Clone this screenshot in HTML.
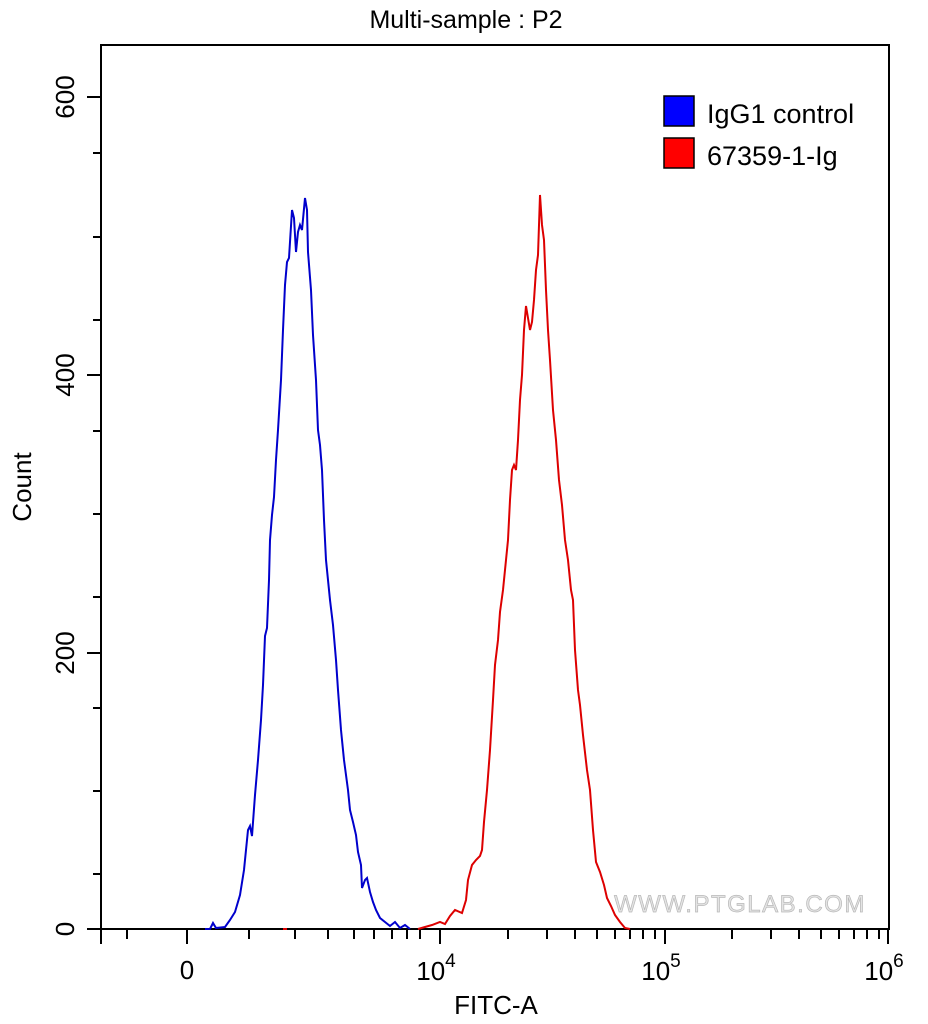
<!DOCTYPE html>
<html><head><style>body{margin:0;background:#fff}svg{display:block}</style></head><body>
<svg width="928" height="1024" xmlns="http://www.w3.org/2000/svg" font-family="Liberation Sans, Arial, sans-serif">
<text x="466" y="28" font-size="25" text-anchor="middle">Multi-sample : P2</text>
<rect x="101" y="45" width="788" height="884" fill="none" stroke="#000" stroke-width="2"/>
<g stroke="#000" stroke-width="2">
<line x1="87" y1="97" x2="101" y2="97"/><line x1="87" y1="375" x2="101" y2="375"/><line x1="87" y1="653" x2="101" y2="653"/><line x1="87" y1="929" x2="101" y2="929"/>
<line x1="93" y1="153" x2="101" y2="153"/><line x1="93" y1="237" x2="101" y2="237"/><line x1="93" y1="320" x2="101" y2="320"/><line x1="93" y1="431" x2="101" y2="431"/><line x1="93" y1="514" x2="101" y2="514"/><line x1="93" y1="597" x2="101" y2="597"/><line x1="93" y1="708" x2="101" y2="708"/><line x1="93" y1="791" x2="101" y2="791"/><line x1="93" y1="874" x2="101" y2="874"/>
<line x1="101" y1="929" x2="101" y2="944"/><line x1="187" y1="929" x2="187" y2="944"/><line x1="440" y1="929" x2="440" y2="944"/><line x1="665" y1="929" x2="665" y2="944"/><line x1="888" y1="929" x2="888" y2="944"/>
<g>
<line x1="127" y1="929" x2="127" y2="939"/><line x1="249" y1="929" x2="249" y2="939"/><line x1="295" y1="929" x2="295" y2="939"/><line x1="328" y1="929" x2="328" y2="939"/><line x1="354" y1="929" x2="354" y2="939"/><line x1="374" y1="929" x2="374" y2="939"/><line x1="392" y1="929" x2="392" y2="939"/><line x1="407" y1="929" x2="407" y2="939"/><line x1="420" y1="929" x2="420" y2="939"/>
<line x1="508" y1="929" x2="508" y2="939"/><line x1="547" y1="929" x2="547" y2="939"/><line x1="575" y1="929" x2="575" y2="939"/><line x1="597" y1="929" x2="597" y2="939"/><line x1="615" y1="929" x2="615" y2="939"/><line x1="630" y1="929" x2="630" y2="939"/><line x1="643" y1="929" x2="643" y2="939"/><line x1="655" y1="929" x2="655" y2="939"/>
<line x1="732" y1="929" x2="732" y2="939"/><line x1="771" y1="929" x2="771" y2="939"/><line x1="799" y1="929" x2="799" y2="939"/><line x1="821" y1="929" x2="821" y2="939"/><line x1="839" y1="929" x2="839" y2="939"/><line x1="854" y1="929" x2="854" y2="939"/><line x1="867" y1="929" x2="867" y2="939"/><line x1="879" y1="929" x2="879" y2="939"/>
</g></g>
<g font-size="26" text-anchor="middle">
<text transform="translate(74,97) rotate(-90)">600</text>
<text transform="translate(74,375) rotate(-90)">400</text>
<text transform="translate(74,653) rotate(-90)">200</text>
<text transform="translate(74,929) rotate(-90)">0</text>
<text x="187" y="979">0</text>
<text x="436" y="980">10<tspan font-size="19" dy="-13">4</tspan></text>
<text x="661" y="980">10<tspan font-size="19" dy="-13">5</tspan></text>
<text x="884" y="980">10<tspan font-size="19" dy="-13">6</tspan></text>
<text x="496" y="1014">FITC-A</text>
<text transform="translate(31,487) rotate(-90)">Count</text>
</g>
<text x="740" y="912" font-size="24" fill="#e4e4e4" stroke="#b8b8b8" stroke-width="0.7" text-anchor="middle" letter-spacing="1.5">WWW.PTGLAB.COM</text>
<polyline fill="none" stroke="#0000cc" stroke-width="2" points="205,929 210,929 213,923 216,928 225,927 230,920 235,912 240,895 244,870 248,830 250,826 252,836 255,795 258,760 261,720 263,685 265,636 267,628 269,580 270,540 272,515 274,497 276,460 278,430 281,380 283,330 285,285 287,262 289,258 292,210 294,218 296,252 298,232 300,225 302,230 305,198 307,210 308,252 311,290 313,335 316,380 318,430 320,445 322,470 324,520 326,560 330,600 333,625 336,660 338,690 341,730 344,760 348,790 350,810 353,822 356,835 358,852 361,865 362,888 365,880 367,878 370,892 373,902 376,910 380,918 385,922 390,926 395,922 400,928 405,925 410,929"/>
<line x1="283" y1="929" x2="287" y2="929" stroke="#dd0000" stroke-width="2"/>
<polyline fill="none" stroke="#dd0000" stroke-width="2" points="418,929 425,927 432,925 440,922 445,924 450,916 455,910 462,913 466,900 468,880 472,865 476,860 480,856 482,850 484,822 487,790 490,750 493,700 495,665 498,640 500,612 503,590 506,560 508,540 510,500 512,470 514,465 516,470 518,440 520,400 522,375 524,330 526,306 528,318 530,330 532,322 534,300 536,270 538,255 540,195 542,225 544,240 546,290 548,330 550,360 553,410 556,440 559,480 562,505 565,540 568,560 571,590 573,600 575,650 578,690 580,705 583,735 587,770 590,790 593,830 596,862 600,872 604,885 607,898 611,906 615,915 620,922 625,928 630,929"/>
<rect x="664" y="96" width="30" height="30" fill="#0000ff" stroke="#000" stroke-width="1.5"/>
<rect x="664" y="138" width="30" height="30" fill="#ff0000" stroke="#000" stroke-width="1.5"/>
<text x="707" y="123" font-size="27">IgG1 control</text>
<text x="707" y="165" font-size="27">67359-1-Ig</text>
</svg>
</body></html>
